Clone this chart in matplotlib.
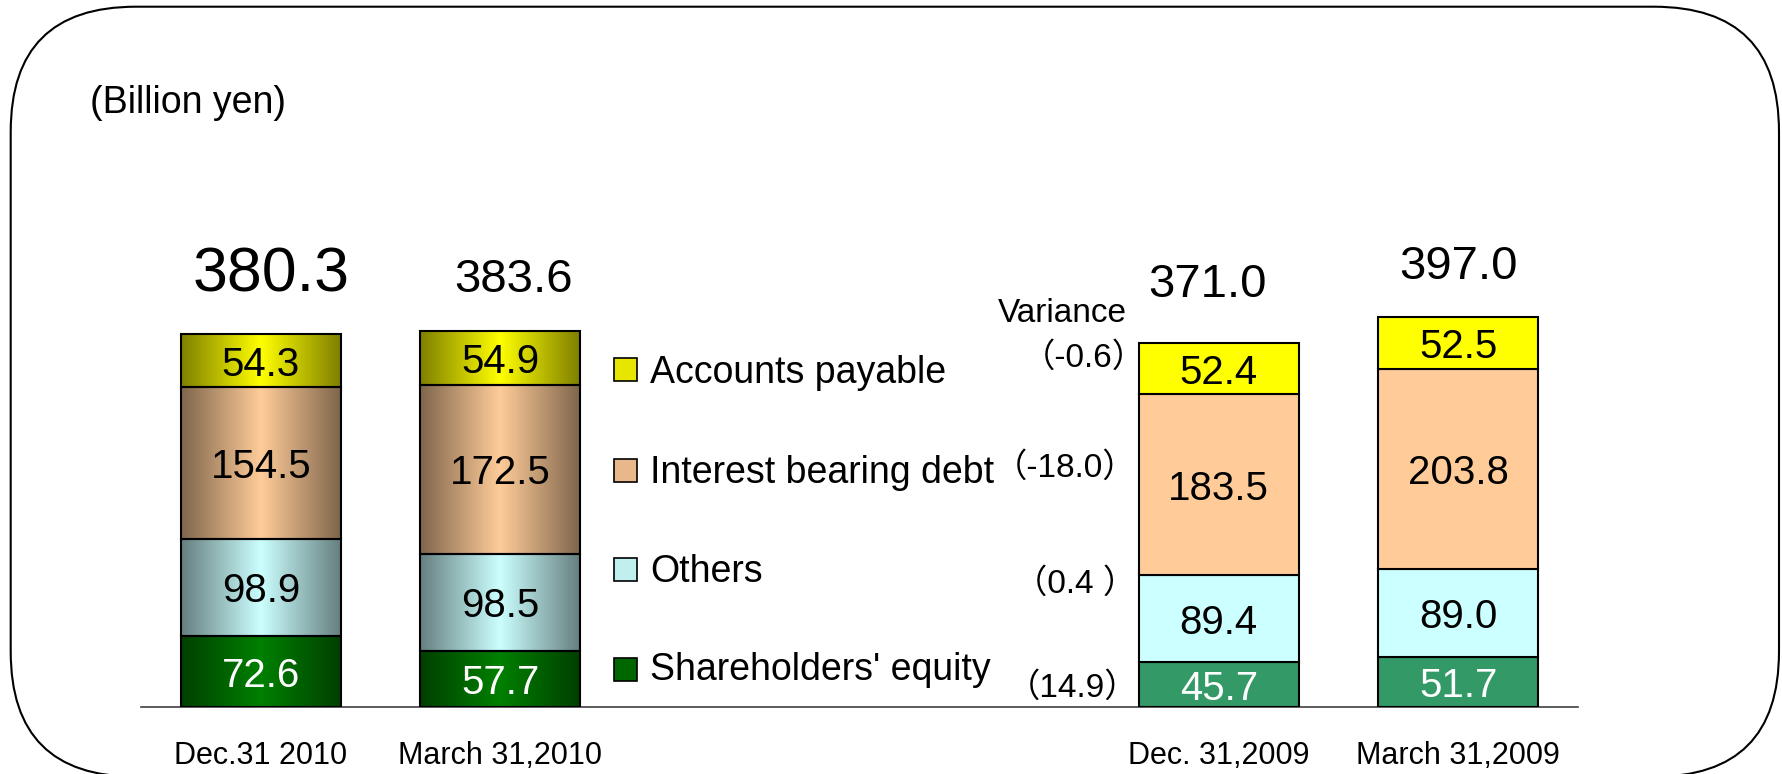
import numpy as np
import matplotlib
matplotlib.use("Agg")
import matplotlib.pyplot as plt
from matplotlib.patches import FancyBboxPatch, Rectangle
from matplotlib.colors import to_rgb

plt.rcParams['font.family'] = ['Liberation Sans', 'Noto Sans CJK JP', 'DejaVu Sans']

# ---------------- data ----------------
categories = ["Dec.31 2010", "March 31,2010", "Dec. 31,2009", "March 31,2009"]
positions = [0, 1, 4, 5]
series_names = ["Shareholders' equity", "Others", "Interest bearing debt", "Accounts payable"]
equity = [72.6, 57.7, 45.7, 51.7]
others = [98.9, 98.5, 89.4, 89.0]
debt = [154.5, 172.5, 183.5, 203.8]
payable = [54.3, 54.9, 52.4, 52.5]
totals = [380.3, 383.6, 371.0, 397.0]
variance_labels = ["（-0.6）", "（-18.0）", "（0.4 ）", "（14.9）"]  # AP, IBD, Others, SE

# ---------------- style ----------------
grad_colors = ["#008000", "#CCFFFF", "#FFCC99", "#FFFF00"]
flat_colors = ["#339966", "#CCFFFF", "#FFCC99", "#FFFF00"]
text_colors = ["white", "black", "black", "black"]
legend_colors = ["#006600", "#BFEFEF", "#E8B88A", "#E6E600"]

W, H = 1782, 774
fig = plt.figure(figsize=(W / 100, H / 100), dpi=100)


def py(y):
    """pixel-from-top -> background data y"""
    return H - y


# background axes in pixel coordinates (origin bottom-left)
bg = fig.add_axes([0, 0, 1, 1], zorder=0)
bg.set_xlim(0, W)
bg.set_ylim(0, H)
bg.axis("off")

border = FancyBboxPatch((10.7, py(776.7)), 1768.3, 770, boxstyle="round,pad=0,rounding_size=125",
                        fill=False, lw=1.5, ec="black", clip_on=False)
bg.add_patch(border)
bg.text(90, py(113.3), "(Billion yen)", fontsize=27, ha="left", va="baseline")

# main axes
base_px = 707.3
scale = 0.982  # px per unit
ymax = 580
ax_left, ax_right = 141, 1578
ax = fig.add_axes([ax_left / W, (H - base_px) / H, (ax_right - ax_left) / W, ymax * scale / H], zorder=1)
ax.patch.set_alpha(0)

series = [equity, others, debt, payable]
bottom = np.zeros(len(positions))
bar_w = 0.668
for si, vals in enumerate(series):
    vals = np.array(vals)
    colors = [grad_colors[si], grad_colors[si], flat_colors[si], flat_colors[si]]
    bars = ax.bar(positions, vals, bottom=bottom, width=bar_w, color=colors,
                  edgecolor="black", linewidth=1.5, zorder=3)
    for bi, p in enumerate(bars.patches):
        if bi < 2:
            p.set_facecolor("none")
            c = np.array(to_rgb(grad_colors[si]))
            t = 1 - np.abs(np.linspace(-1, 1, 128))
            f = 0.5 + 0.5 * t
            img = (f[:, None] * c[None, :])[None, :, :]
            x0, y0 = p.get_x(), p.get_y()
            ax.imshow(img, extent=[x0, x0 + p.get_width(), y0, y0 + p.get_height()],
                      aspect="auto", interpolation="bilinear", zorder=2)
        ax.text(p.get_x() + p.get_width() / 2, p.get_y() + p.get_height() / 2,
                f"{vals[bi]:.1f}", ha="center", va="center_baseline", fontsize=29,
                color=text_colors[si], zorder=4)
    bottom = bottom + vals

total_dx = [10, 13, -11, 0]
total_dy = [42, 39, 46, 38]
total_fs = [45, 34, 34, 34]
for i, (x, t) in enumerate(zip(positions, totals)):
    ax.annotate(f"{t:.1f}", (x, t), xytext=(total_dx[i], total_dy[i]), textcoords="offset pixels",
                ha="center", va="baseline", fontsize=total_fs[i])

ax.set_xlim(-0.5, 5.5)
ax.set_ylim(0, ymax)
ax.set_xticks(positions, categories, fontsize=22)
ax.tick_params(axis="x", length=0, pad=24)
ax.set_yticks([])
for s in ["left", "right", "top"]:
    ax.spines[s].set_visible(False)
ax.spines["bottom"].set_color("#404040")
ax.spines["bottom"].set_linewidth(1.2)

# legend (top to bottom: AP, IBD, Others, SE)
leg_tops = [358, 459.3, 558.3, 658.3]
leg_base = [382.7, 482.7, 581.7, 680]
for k, si in enumerate([3, 2, 1, 0]):
    bg.add_patch(Rectangle((614, py(leg_tops[k] + 23)), 23, 23, facecolor=legend_colors[si],
                           edgecolor="black", lw=1.2))
    bg.text(650, py(leg_base[k]), series_names[si], fontsize=27, ha="left", va="baseline")

# variance annotations
bg.text(1127, py(321.7), "Variance", fontsize=24, ha="right", va="baseline")
var_right = [1146, 1136, 1136, 1138]
var_base = [366.7, 476.7, 593, 696.7]
for k in range(4):
    bg.text(var_right[k], py(var_base[k]), variance_labels[k], fontsize=24, ha="right", va="baseline")

fig.savefig("out.png", dpi=100)
